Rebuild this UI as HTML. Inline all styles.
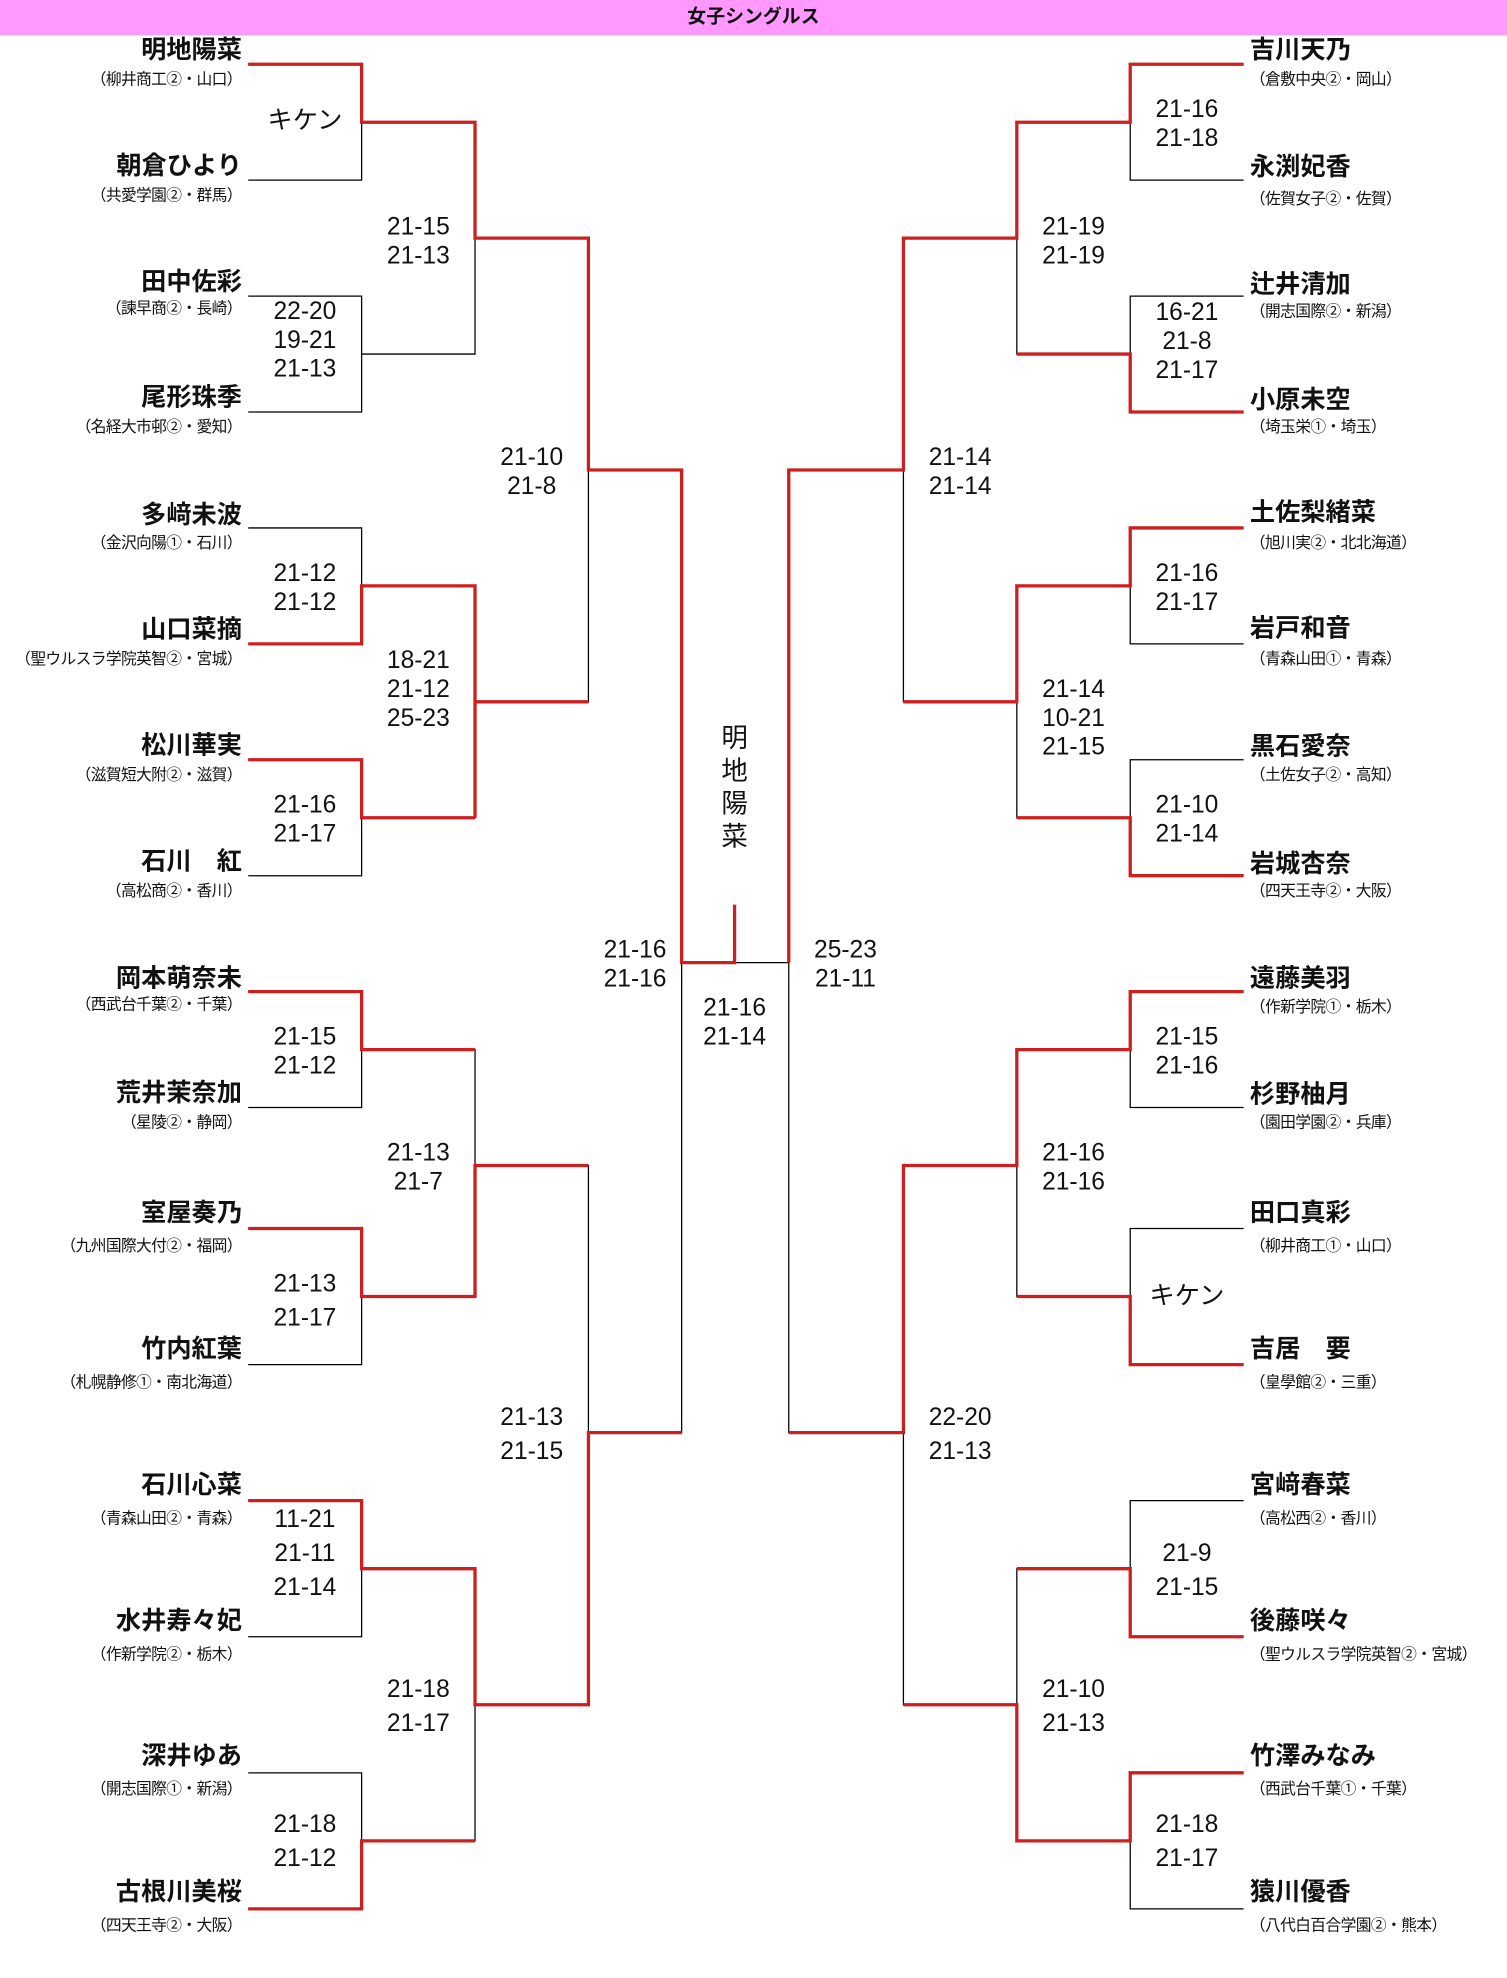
<!DOCTYPE html>
<html><head><meta charset="utf-8">
<style>
html,body{margin:0;padding:0;background:#fff;}
body{width:1507px;height:1978px;overflow:hidden;position:relative;}
#w{position:absolute;left:0;top:0;width:1196px;height:1570px;transform:scale(1.26);transform-origin:0 0;font-family:"Liberation Sans","Noto Sans CJK JP",sans-serif;color:#111;}
.h{position:absolute;left:0;top:0;width:1196px;height:28px;background:#ff99ff;text-align:center;font-size:15px;line-height:28px;font-weight:bold;}
.n{position:absolute;font-size:20px;line-height:24px;white-space:nowrap;font-weight:bold;}
.s{position:absolute;font-size:12.5px;line-height:16px;white-space:nowrap;letter-spacing:-0.5px;}
.L{right:1004px;text-align:right;}
.R{left:992px;}
.c{position:absolute;width:100px;margin-left:-50px;text-align:center;font-size:19.5px;line-height:23px;white-space:nowrap;}
svg{position:absolute;left:0;top:0;}
</style></head><body><div id="w">
<div class="h">女子シングルス</div>
<svg width="1196" height="1570" viewBox="0 0 1196 1570" fill="none">
<g stroke="#000" stroke-width="1">
<path d="M197 51H287V143H197M197 235H287V327H197M197 419H287V511H197M197 603H287V695H197M197 787H287V879H197M197 975H287V1083H197M197 1191H287V1299H197M197 1407H287V1515H197"/>
<path d="M287 97H377V281H287M287 465H377V649H287M287 833H377V1029H287M287 1245H377V1461H287"/>
<path d="M377 189H467V557H377M377 925H467V1353H377"/>
<path d="M467 373H541V1137H467M541 764H626"/>
<path d="M987 51H897V143H987M987 235H897V327H987M987 419H897V511H987M987 603H897V695H987M987 787H897V879H987M987 975H897V1083H987M987 1191H897V1299H987M987 1407H897V1515H987"/>
<path d="M897 97H807V281H897M897 465H807V649H897M897 833H807V1029H897M897 1245H807V1461H897"/>
<path d="M807 189H717V557H807M807 925H717V1353H807"/>
<path d="M717 373H626V1137H717"/>
</g>
<g stroke="#cc1f1f" stroke-width="2.6" stroke-linejoin="miter">
<path d="M197 51H287V97H377V189H467V373H541V764H583V718"/>
<path d="M197 511H287V465H377V649M377 557H467M197 603H287V649H377"/>
<path d="M197 787H287V833H377"/>
<path d="M197 975H287V1029H377V925H467"/>
<path d="M541 1137H467V1353H377V1245H287V1191H197"/>
<path d="M197 1515H287V1461H377"/>
<path d="M987 51H897V97H807V189H717V373H626V764"/>
<path d="M987 327H897V281H807"/>
<path d="M987 419H897V465H807V557H717M987 695H897V649H807"/>
<path d="M987 787H897V833H807V925H717V1137H626"/>
<path d="M987 1083H897V1029H807"/>
<path d="M987 1299H897V1245H807"/>
<path d="M987 1407H897V1461H807V1353H717"/>
</g>
</svg>

<div class="n L" style="top:28px">明地陽菜</div><div class="s L" style="top:55px">（柳井商工②・山口）</div>
<div class="n L" style="top:120px">朝倉ひより</div><div class="s L" style="top:147px">（共愛学園②・群馬）</div>
<div class="n L" style="top:212px">田中佐彩</div><div class="s L" style="top:237px">（諫早商②・長崎）</div>
<div class="n L" style="top:304px">尾形珠季</div><div class="s L" style="top:331px">（名経大市邨②・愛知）</div>
<div class="n L" style="top:397px">多﨑未波</div><div class="s L" style="top:423px">（金沢向陽①・石川）</div>
<div class="n L" style="top:488px">山口菜摘</div><div class="s L" style="top:515px">（聖ウルスラ学院英智②・宮城）</div>
<div class="n L" style="top:580px">松川華実</div><div class="s L" style="top:607px">（滋賀短大附②・滋賀）</div>
<div class="n L" style="top:672px">石川　紅</div><div class="s L" style="top:699px">（高松商②・香川）</div>
<div class="n L" style="top:765px">岡本萌奈未</div><div class="s L" style="top:789px">（西武台千葉②・千葉）</div>
<div class="n L" style="top:856px">荒井茉奈加</div><div class="s L" style="top:883px">（星陵②・静岡）</div>
<div class="n L" style="top:951px">室屋奏乃</div><div class="s L" style="top:981px">（九州国際大付②・福岡）</div>
<div class="n L" style="top:1059px">竹内紅葉</div><div class="s L" style="top:1089px">（札幌静修①・南北海道）</div>
<div class="n L" style="top:1167px">石川心菜</div><div class="s L" style="top:1197px">（青森山田②・青森）</div>
<div class="n L" style="top:1275px">水井寿々妃</div><div class="s L" style="top:1305px">（作新学院②・栃木）</div>
<div class="n L" style="top:1382px">深井ゆあ</div><div class="s L" style="top:1412px">（開志国際①・新潟）</div>
<div class="n L" style="top:1490px">古根川美桜</div><div class="s L" style="top:1520px">（四天王寺②・大阪）</div>

<div class="n R" style="top:28px">吉川天乃</div><div class="s R" style="top:55px">（倉敷中央②・岡山）</div>
<div class="n R" style="top:121px">永渕妃香</div><div class="s R" style="top:150px">（佐賀女子②・佐賀）</div>
<div class="n R" style="top:214px">辻井清加</div><div class="s R" style="top:239px">（開志国際②・新潟）</div>
<div class="n R" style="top:306px">小原未空</div><div class="s R" style="top:331px">（埼玉栄①・埼玉）</div>
<div class="n R" style="top:395px">土佐梨緒菜</div><div class="s R" style="top:423px">（旭川実②・北北海道）</div>
<div class="n R" style="top:487px">岩戸和音</div><div class="s R" style="top:515px">（青森山田①・青森）</div>
<div class="n R" style="top:581px">黒石愛奈</div><div class="s R" style="top:607px">（土佐女子②・高知）</div>
<div class="n R" style="top:674px">岩城杏奈</div><div class="s R" style="top:699px">（四天王寺②・大阪）</div>
<div class="n R" style="top:765px">遠藤美羽</div><div class="s R" style="top:791px">（作新学院①・栃木）</div>
<div class="n R" style="top:857px">杉野柚月</div><div class="s R" style="top:883px">（園田学園②・兵庫）</div>
<div class="n R" style="top:951px">田口真彩</div><div class="s R" style="top:981px">（柳井商工①・山口）</div>
<div class="n R" style="top:1059px">吉居　要</div><div class="s R" style="top:1089px">（皇學館②・三重）</div>
<div class="n R" style="top:1167px">宮﨑春菜</div><div class="s R" style="top:1197px">（高松西②・香川）</div>
<div class="n R" style="top:1275px">後藤咲々</div><div class="s R" style="top:1305px">（聖ウルスラ学院英智②・宮城）</div>
<div class="n R" style="top:1382px">竹澤みなみ</div><div class="s R" style="top:1412px">（西武台千葉①・千葉）</div>
<div class="n R" style="top:1490px">猿川優香</div><div class="s R" style="top:1520px">（八代白百合学園②・熊本）</div>

<div class="c" style="left:242px;top:85px;font-size:20px">キケン</div>
<div class="c" style="left:242px;top:236px">22-20<br>19-21<br>21-13</div>
<div class="c" style="left:242px;top:444px">21-12<br>21-12</div>
<div class="c" style="left:242px;top:628px">21-16<br>21-17</div>
<div class="c" style="left:242px;top:812px">21-15<br>21-12</div>
<div class="c" style="left:242px;top:1006px;line-height:27px">21-13<br>21-17</div>
<div class="c" style="left:242px;top:1193px;line-height:27px">11-21<br>21-11<br>21-14</div>
<div class="c" style="left:242px;top:1435px;line-height:27px">21-18<br>21-12</div>
<div class="c" style="left:332px;top:169px">21-15<br>21-13</div>
<div class="c" style="left:332px;top:513px">18-21<br>21-12<br>25-23</div>
<div class="c" style="left:332px;top:904px">21-13<br>21-7</div>
<div class="c" style="left:332px;top:1328px;line-height:27px">21-18<br>21-17</div>
<div class="c" style="left:422px;top:352px">21-10<br>21-8</div>
<div class="c" style="left:422px;top:1112px;line-height:27px">21-13<br>21-15</div>
<div class="c" style="left:504px;top:743px">21-16<br>21-16</div>
<div class="c" style="left:583px;top:789px">21-16<br>21-14</div>
<div class="c" style="left:583px;top:574px;width:30px;margin-left:-15px;font-size:21px;line-height:26px">明<br>地<br>陽<br>菜</div>
<div class="c" style="left:671px;top:743px">25-23<br>21-11</div>
<div class="c" style="left:762px;top:352px">21-14<br>21-14</div>
<div class="c" style="left:762px;top:1112px;line-height:27px">22-20<br>21-13</div>
<div class="c" style="left:852px;top:169px">21-19<br>21-19</div>
<div class="c" style="left:852px;top:536px">21-14<br>10-21<br>21-15</div>
<div class="c" style="left:852px;top:904px">21-16<br>21-16</div>
<div class="c" style="left:852px;top:1328px;line-height:27px">21-10<br>21-13</div>
<div class="c" style="left:942px;top:76px">21-16<br>21-18</div>
<div class="c" style="left:942px;top:237px">16-21<br>21-8<br>21-17</div>
<div class="c" style="left:942px;top:444px">21-16<br>21-17</div>
<div class="c" style="left:942px;top:628px">21-10<br>21-14</div>
<div class="c" style="left:942px;top:812px">21-15<br>21-16</div>
<div class="c" style="left:942px;top:1018px;font-size:20px">キケン</div>
<div class="c" style="left:942px;top:1220px;line-height:27px">21-9<br>21-15</div>
<div class="c" style="left:942px;top:1435px;line-height:27px">21-18<br>21-17</div>
</div></body></html>
